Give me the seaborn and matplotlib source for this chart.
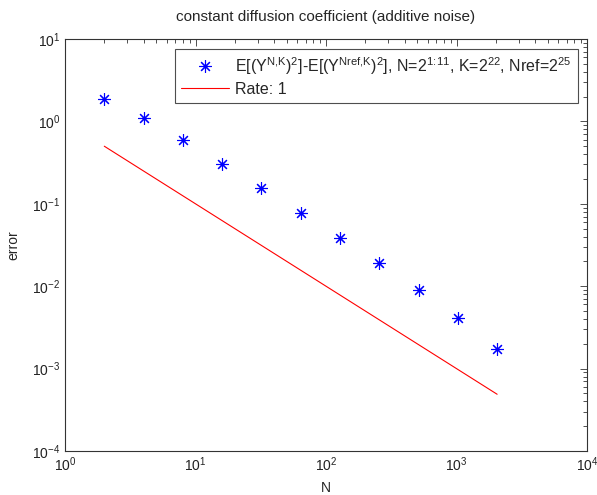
import numpy as np
import pandas as pd
import matplotlib
matplotlib.use("Agg")
import matplotlib.pyplot as plt
import seaborn as sns

# Data
N_vals = [2, 4, 8, 16, 32, 64, 128, 256, 512, 1024, 2048]
err_vals = [1.86, 1.10, 0.594, 0.304, 0.156, 0.0776, 0.0382, 0.0189, 0.00897, 0.00416, 0.00175]
rate_vals = [0.5, 0.25, 0.125, 0.0625, 0.03125, 0.015625, 0.0078125,
             0.00390625, 0.001953125, 0.0009765625, 0.00048828125]

title = "constant diffusion coefficient (additive noise)"
err_label = (r"E[(Y$^{\mathregular{N{,}K}}$)$^{\mathregular{2}}$]-E[(Y$^{\mathregular{Nref{,}K}}$)$^{\mathregular{2}}$], "
             r"N=2$^{\mathregular{1\!:\!11}}$, K=2$^{\mathregular{22}}$, Nref=2$^{\mathregular{25}}$")
rate_label = "Rate: 1"

sns.set_style("white")
plt.rcParams['font.family'] = ['Liberation Sans', 'DejaVu Sans']
plt.rcParams['mathtext.fontset'] = 'custom'
plt.rcParams['mathtext.rm'] = 'Liberation Sans'
plt.rcParams['mathtext.it'] = 'Liberation Sans'
plt.rcParams['mathtext.default'] = 'regular'

df = pd.DataFrame({"N": N_vals, "err": err_vals, "rate": rate_vals})

fig = plt.figure(figsize=(5.97, 4.95), dpi=100)
ax = fig.add_axes([65/597, 44/495, (587-65)/597, (451-39)/495])

sns.lineplot(data=df, x="N", y="err", ax=ax, linestyle='', marker=(8, 2, 0),
             markersize=9, markeredgewidth=0.8, color='blue', markeredgecolor='blue',
             label=err_label)
sns.lineplot(data=df, x="N", y="rate", ax=ax, color='red', linewidth=0.8,
             label=rate_label)

ax.set_xscale('log')
ax.set_yscale('log')
ax.set_xlim(1, 1e4)
ax.set_ylim(1e-4, 1e1)
ax.set_xlabel("N", fontsize=10, labelpad=5)
ax.set_ylabel("error", fontsize=10, labelpad=8)
ax.set_title(title, fontsize=11, pad=13)

for s in ax.spines.values():
    s.set_color('#333333')
    s.set_linewidth(0.8)
ax.tick_params(which='both', direction='in', top=True, right=True, colors='#333333',
               labelcolor='#222222', labelsize=10)
ax.tick_params(which='major', length=5, width=0.6)
ax.tick_params(which='minor', length=3, width=0.6)
ax.xaxis.set_major_locator(matplotlib.ticker.LogLocator(base=10, numticks=10))
ax.xaxis.set_minor_locator(matplotlib.ticker.LogLocator(base=10, subs=np.arange(2, 10), numticks=20))
ax.yaxis.set_major_locator(matplotlib.ticker.LogLocator(base=10, numticks=10))
ax.yaxis.set_minor_locator(matplotlib.ticker.LogLocator(base=10, subs=np.arange(2, 10), numticks=20))
ax.xaxis.set_minor_formatter(matplotlib.ticker.NullFormatter())
ax.yaxis.set_minor_formatter(matplotlib.ticker.NullFormatter())

leg = ax.legend(loc='upper right', fontsize=11.5, frameon=True, fancybox=False,
                edgecolor='#222222', borderpad=0.4, handlelength=3.0, handletextpad=0.4,
                bbox_to_anchor=(0.983, 0.976), borderaxespad=0.0, labelspacing=0.3)
leg.get_frame().set_linewidth(0.8)

fig.savefig("out.png", dpi=100)
